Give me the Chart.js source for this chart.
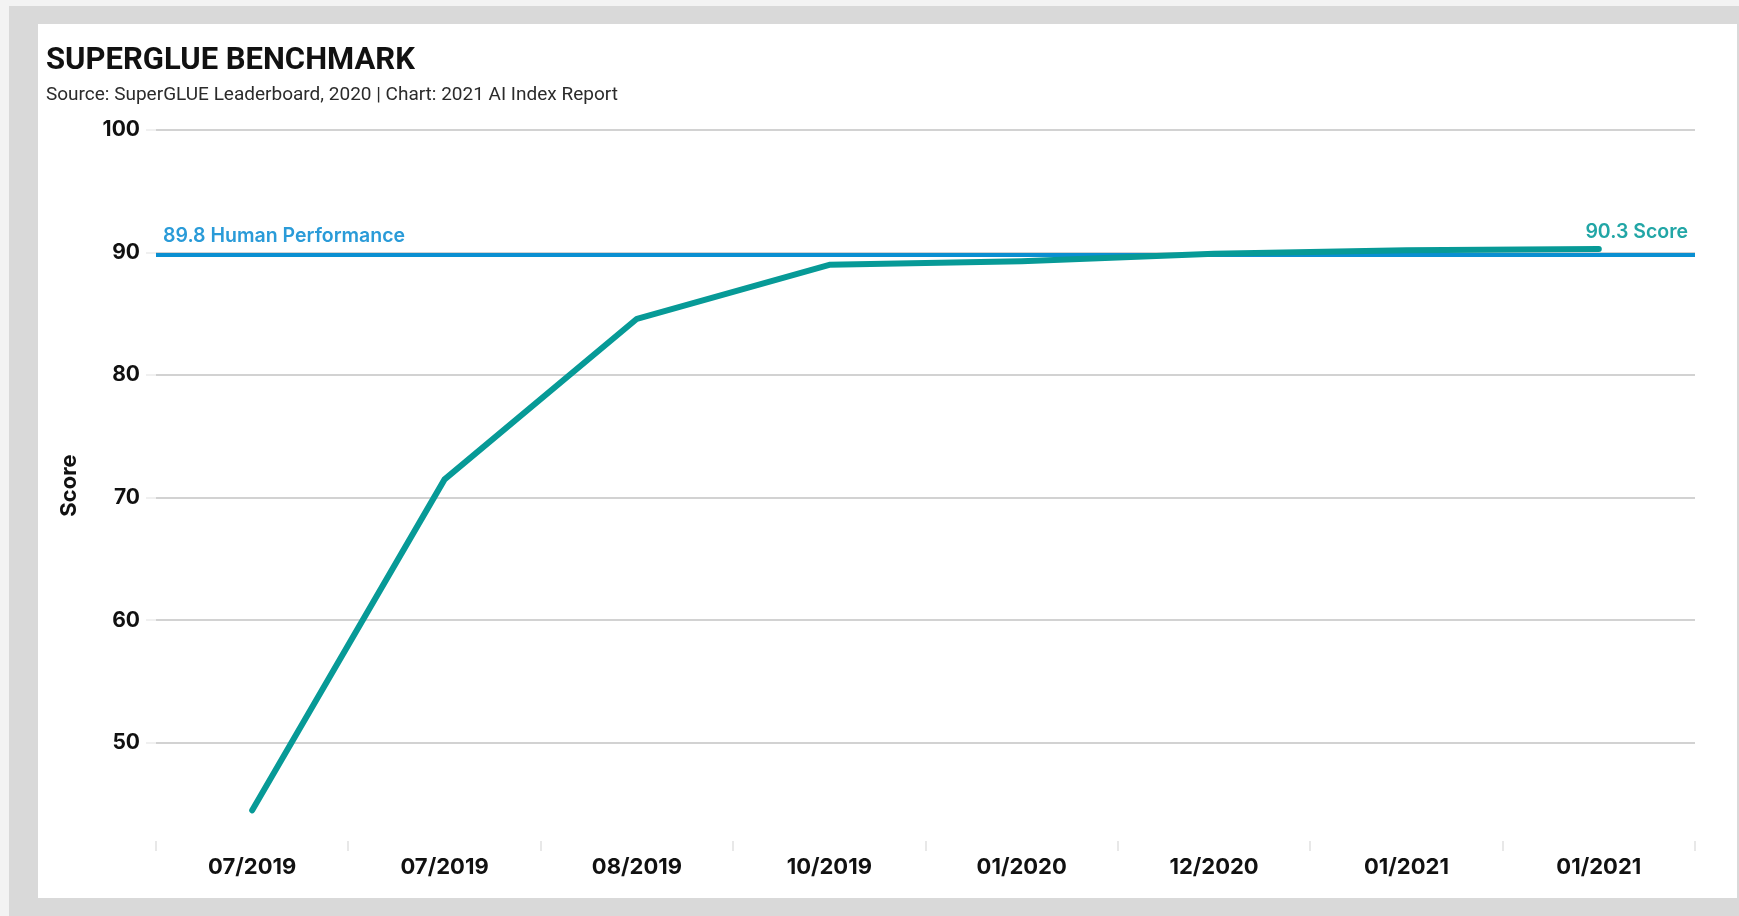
<!DOCTYPE html>
<html>
<head>
<meta charset="utf-8">
<title>SuperGLUE Benchmark</title>
<script src="https://cdn.jsdelivr.net/npm/chart.js@4.4.1/dist/chart.umd.min.js"></script>
<style>
    html, body { margin: 0; padding: 0; background: #f3f3f3; overflow: hidden; }
    #frame { position: absolute; left: 9px; top: 6px; right: 0; bottom: 0; background: #d9d9d9; }
    #card { position: absolute; left: 38px; top: 24px; width: 1699px; height: 874px; background: #ffffff; }
</style>
</head>
<body>
<div id="frame"></div>
<div id="card"><canvas id="myChart" width="1699" height="874"></canvas></div>
<script>
// dados
const dateLabels = ['07/2019', '07/2019', '08/2019', '10/2019', '01/2020', '12/2020', '01/2021', '01/2021'];
const scores = [44.5, 71.5, 84.6, 89.0, 89.3, 89.9, 90.2, 90.3];
const humanScore = 89.8;
const yTicks = [50, 60, 70, 80, 90, 100];

const tealColor = '#079a97';
const blueColor = '#0a8fd1';

// linha de desempenho humano + rótulos
const referenceLines = {
    id: 'referenceLines',
    beforeDatasetsDraw(chart) {
        const { ctx, chartArea, scales } = chart;
        const y = scales.y.getPixelForValue(humanScore);
        ctx.save();
        ctx.strokeStyle = blueColor;
        ctx.lineWidth = 4;
        ctx.beginPath();
        ctx.moveTo(chartArea.left, y);
        ctx.lineTo(chartArea.right, y);
        ctx.stroke();

        ctx.font = '600 19.5px Inter';
        ctx.fillStyle = '#2a9bd8';
        ctx.textAlign = 'left';
        ctx.textBaseline = 'middle';
        ctx.fillText(`${humanScore} Human Performance`, chartArea.left + 7, y - 19);
        ctx.restore();
    },
    afterDatasetsDraw(chart) {
        const { ctx, chartArea } = chart;
        const meta = chart.getDatasetMeta(0);
        const last = meta.data[meta.data.length - 1];
        ctx.save();
        ctx.font = '600 19.5px Inter';
        ctx.fillStyle = '#22a6a6';
        ctx.textAlign = 'right';
        ctx.textBaseline = 'middle';
        ctx.fillText(`${scores[scores.length - 1]} Score`, chartArea.right - 7, last.y - 17);
        ctx.restore();
    }
};

const ctx = document.getElementById('myChart').getContext('2d');

const myChart = new Chart(ctx, {
    type: 'line',
    data: {
        labels: dateLabels,
        datasets: [{
            label: 'Score',
            data: scores,
            borderColor: tealColor,
            backgroundColor: tealColor,
            borderWidth: 6,
            borderCapStyle: 'round',
            borderJoinStyle: 'round',
            pointRadius: 0,
            tension: 0,
            fill: false
        }]
    },
    options: {
        responsive: false,
        animation: false,
        layout: {
            padding: { left: 8, right: 42, top: 0, bottom: 0 }
        },
        plugins: {
            legend: { display: false },
            tooltip: { enabled: false },
            title: {
                display: true,
                text: 'SUPERGLUE BENCHMARK',
                align: 'start',
                color: '#111111',
                font: { family: 'Roboto', size: 31, weight: 'bold', lineHeight: 1.2 },
                padding: { top: 19, bottom: 0 }
            },
            subtitle: {
                display: true,
                text: 'Source: SuperGLUE Leaderboard, 2020 | Chart: 2021 AI Index Report',
                align: 'start',
                color: '#2b2b2b',
                font: { family: 'Roboto', size: 19, weight: 'normal', lineHeight: 1.2 },
                padding: { top: 4, bottom: 23 }
            }
        },
        scales: {
            x: {
                offset: true,
                border: { display: false },
                grid: {
                    offset: true,
                    drawOnChartArea: false,
                    drawTicks: true,
                    tickLength: 10,
                    color: '#e8e8e8',
                    lineWidth: 2
                },
                ticks: {
                    autoSkip: false,
                    maxRotation: 0,
                    padding: 3,
                    color: '#111111',
                    font: { family: 'Inter', size: 22, weight: 'bold' }
                },
                afterFit(scale) {
                    scale.height = 57;
                }
            },
            y: {
                min: 42,
                max: 100,
                border: { display: false },
                grid: {
                    color: '#d2d2d2',
                    lineWidth: 2,
                    drawTicks: true,
                    tickLength: 10,
                    tickColor: '#f0f0f0'
                },
                ticks: {
                    stepSize: 10,
                    padding: 6,
                    color: '#111111',
                    font: { family: 'Inter', size: 21, weight: 'bold' }
                },
                afterBuildTicks(scale) {
                    scale.ticks = yTicks.map(v => ({ value: v }));
                },
                title: {
                    display: true,
                    text: 'Score',
                    color: '#111111',
                    font: { family: 'Inter', size: 22, weight: 'bold' },
                    padding: { top: 10, bottom: 0 }
                },
                afterFit(scale) {
                    scale.width = 110;
                }
            }
        }
    },
    plugins: [referenceLines]
});
</script>
</body>
</html>
